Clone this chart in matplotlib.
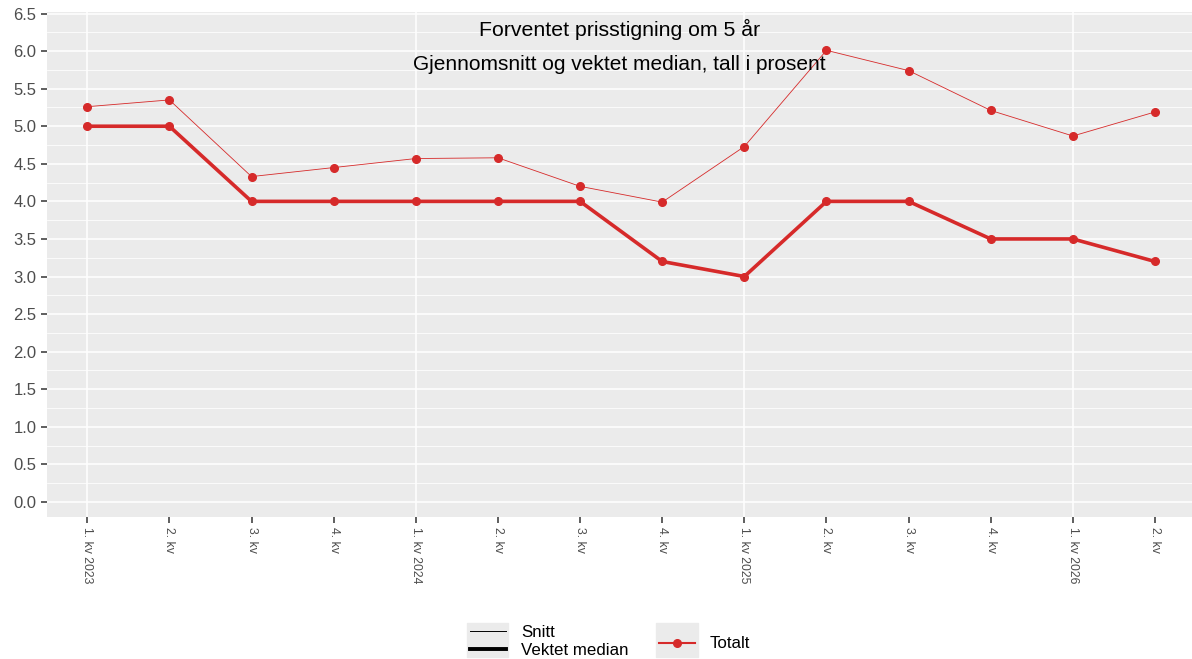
import matplotlib.pyplot as plt
import numpy as np
from matplotlib.lines import Line2D
from matplotlib.patches import Rectangle

plt.rcParams['font.family'] = ['Liberation Sans', 'DejaVu Sans']

# data
kvartal = ["1. kv 2023", "2. kv", "3. kv", "4. kv",
           "1. kv 2024", "2. kv", "3. kv", "4. kv",
           "1. kv 2025", "2. kv", "3. kv", "4. kv",
           "1. kv 2026", "2. kv"]
snitt = [5.26, 5.35, 4.33, 4.45, 4.57, 4.58, 4.20, 3.99, 4.73, 6.01, 5.74, 5.21, 4.87, 5.19]
median = [5.0, 5.0, 4.0, 4.0, 4.0, 4.0, 4.0, 3.2, 3.0, 4.0, 4.0, 3.5, 3.5, 3.2]

red = "#d62a2a"
x = np.arange(len(kvartal))

fig = plt.figure(figsize=(11.92, 6.59), dpi=100)
ax = fig.add_axes([47 / 1192, 1 - 517 / 659, 1 - 47 / 1192, (517 - 12) / 659])
ax.set_facecolor("#ebebeb")

# grid (ggplot-ish)
for v in np.arange(0, 6.51, 0.5):
    ax.axhline(v, color="white", lw=1.1, zorder=1)
for v in np.arange(0.25, 6.5, 0.5):
    ax.axhline(v, color="white", lw=0.55, zorder=1)
for i in range(0, len(kvartal), 4):
    ax.axvline(i, color="white", lw=1.1, zorder=1)

ax.plot(x, snitt, color=red, lw=0.6, marker="o", ms=5.5, zorder=3)
ax.plot(x, median, color=red, lw=2.6, marker="o", ms=5.5, zorder=3)

ax.set_xlim(-0.49, 13.45)
ax.set_ylim(-0.2, 6.52)
ax.set_yticks(np.arange(0, 6.51, 0.5))
ax.set_yticklabels([f"{v:.1f}" for v in np.arange(0, 6.51, 0.5)], fontsize=12, color="#4d4d4d")
ax.set_xticks(x)
ax.set_xticklabels(kvartal, rotation=270, fontsize=8.8, color="#4d4d4d", va="top", ha="center")
ax.tick_params(axis="both", length=4, width=1.1, color="#333333", pad=3.5)
for s in ax.spines.values():
    s.set_visible(False)

ax.text(0.5, 0.966, "Forventet prisstigning om 5 år", transform=ax.transAxes,
        ha="center", va="center", fontsize=15.3, zorder=4)
ax.text(0.5, 0.897, "Gjennomsnitt og vektet median, tall i prosent", transform=ax.transAxes,
        ha="center", va="center", fontsize=15, zorder=4)

# legend key backgrounds
W, H = 1192, 659
fig.patches.append(Rectangle((467 / W, 1 - 657 / H), 41 / W, 34 / H,
                             transform=fig.transFigure, color="#ebebeb", zorder=0))
fig.patches.append(Rectangle((656 / W, 1 - 657 / H), 42 / W, 34 / H,
                             transform=fig.transFigure, color="#ebebeb", zorder=0))

h1 = [Line2D([], [], color="black", lw=0.7), Line2D([], [], color="black", lw=2.8)]
leg1 = fig.legend(h1, ["Snitt", "Vektet median"], loc="center left",
                  bbox_to_anchor=(470 / W, 1 - 641.5 / H), frameon=False, fontsize=12.2,
                  handlelength=2.1, handletextpad=0.9, labelspacing=0.2, borderpad=0,
                  borderaxespad=0)
h2 = [Line2D([], [], color=red, lw=1.5, marker="o", ms=5.5)]
leg2 = fig.legend(h2, ["Totalt"], loc="center left",
                  bbox_to_anchor=(659 / W, 1 - 644 / H), frameon=False, fontsize=12.2,
                  handlelength=2.1, handletextpad=0.9, borderpad=0, borderaxespad=0)

fig.savefig("out.png", dpi=100)
